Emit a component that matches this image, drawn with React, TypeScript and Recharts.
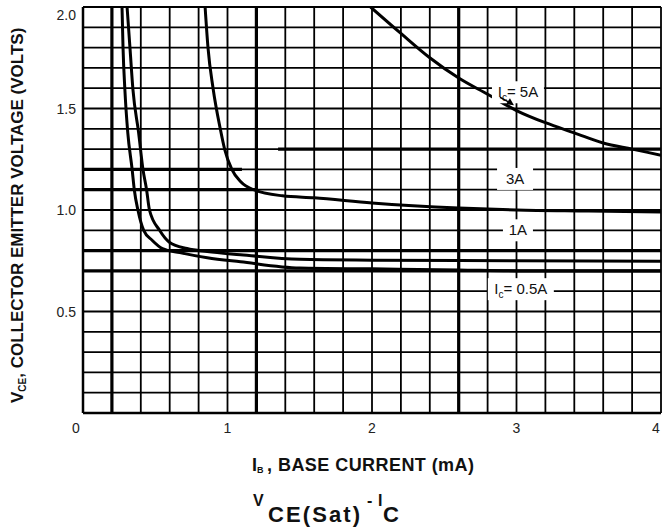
import { LineChart, Line, XAxis, YAxis, CartesianGrid, ReferenceLine, ReferenceDot } from 'recharts'

const FONT = 'Liberation Sans, Arial, Helvetica, sans-serif'

// grid every 0.2 mA / 0.1 V, labels on the whole numbers
const xGridTicks = [0, 0.2, 0.4, 0.6, 0.8, 1, 1.2, 1.4, 1.6, 1.8, 2, 2.2, 2.4, 2.6, 2.8, 3, 3.2, 3.4, 3.6, 3.8, 4]
const xLabelTicks = [0, 1, 2, 3, 4]
const yGridTicks = [0, 0.1, 0.2, 0.3, 0.4, 0.5, 0.6, 0.7, 0.8, 0.9, 1, 1.1, 1.2, 1.3, 1.4, 1.5, 1.6, 1.7, 1.8, 1.9, 2]
const yLabelTicks = [0.5, 1, 1.5, 2]

// Ic = 0.5A
const ib05 = [0.27, 0.277, 0.29, 0.31, 0.34, 0.355, 0.38, 0.42, 0.48, 0.55, 0.67, 0.86, 1.09, 1.5, 2.0, 2.6, 3.0, 3.5, 4.0]
const vce05 = [2.0, 1.8, 1.59, 1.38, 1.2, 1.1, 1.0, 0.9, 0.85, 0.81, 0.79, 0.765, 0.745, 0.714, 0.71, 0.705, 0.7, 0.7, 0.7]
// Ic = 1A
const ib1 = [0.305, 0.325, 0.346, 0.385, 0.415, 0.44, 0.46, 0.53, 0.6, 0.72, 0.86, 1.09, 1.5, 2.0, 3.0, 4.0]
const vce1 = [2.0, 1.8, 1.59, 1.38, 1.2, 1.1, 1.0, 0.9, 0.84, 0.81, 0.795, 0.78, 0.757, 0.753, 0.75, 0.748]
// Ic = 3A
const ib3 = [0.845, 0.865, 0.9, 0.95, 0.98, 1.03, 1.09, 1.18, 1.38, 1.6, 2.0, 2.6, 3.0, 3.5, 4.0]
const vce3 = [2.0, 1.8, 1.6, 1.4, 1.3, 1.2, 1.14, 1.1, 1.07, 1.06, 1.035, 1.01, 1.0, 0.995, 0.99]
// Ic = 5A
const ib5 = [1.99, 2.2, 2.4, 2.6, 2.8, 3.0, 3.2, 3.4, 3.6, 3.8, 4.0]
const vce5 = [2.0, 1.87, 1.75, 1.65, 1.57, 1.49, 1.43, 1.38, 1.33, 1.3, 1.27]

const toPoints = (xs: number[], ys: number[]) => xs.map((x, i) => ({ ib: x, vce: ys[i] }))

const curves = [
  { key: '0.5A', data: toPoints(ib05, vce05) },
  { key: '1A', data: toPoints(ib1, vce1) },
  { key: '3A', data: toPoints(ib3, vce3) },
  { key: '5A', data: toPoints(ib5, vce5) },
]

const curveLabels = [
  { x: 3.01, y: 1.58, main: 'I', sub: 'c', rest: '= 5A', w: 52, arrow: true },
  { x: 2.99, y: 1.153, main: '3A', sub: '', rest: '', w: 36, arrow: false },
  { x: 3.01, y: 0.9, main: '1A', sub: '', rest: '', w: 30, arrow: false },
  { x: 3.03, y: 0.61, main: 'I', sub: 'c', rest: '= 0.5A', w: 66, arrow: false },
]

// heavier rulings seen on the original sheet
const thickX = [0.2, 1.2, 2.6]
const thickY = [0.7, 0.8]
const thickSegments = [
  { y: 1.2, from: 0, to: 1.1 },
  { y: 1.1, from: 0, to: 1.2 },
  { y: 1.3, from: 1.35, to: 4 },
]

function XTick({ x, y, payload }: any) {
  if (!xLabelTicks.includes(payload.value)) return <g />
  // first and last labels are nudged inside, as on the sheet
  const dx = payload.value === 0 ? -7 : payload.value === 4 ? -5 : 0
  return (
    <text x={x + dx} y={y + 20} textAnchor='middle' fontSize={14} fontFamily={FONT} fill='#222'>
      {payload.value}
    </text>
  )
}

function YTick({ x, y, payload }: any) {
  if (!yLabelTicks.includes(payload.value)) return <g />
  const dy = payload.value === 2 ? 8 : 0
  return (
    <text x={x - 7} y={y + 5 + dy} textAnchor='end' fontSize={14} fontFamily={FONT} fill='#222'>
      {payload.value.toFixed(1)}
    </text>
  )
}

function labelShape(l: (typeof curveLabels)[number]) {
  return (props: any) => {
    const { cx, cy } = props
    return (
      <g>
        <rect x={cx - l.w / 2} y={cy - 11} width={l.w} height={22} fill='#fff' />
        <text x={cx} y={cy + 5} textAnchor='middle' fontSize={15} fontFamily={FONT} fill='#111'>
          {l.main}
          {l.sub && (
            <tspan fontSize={10} dy={4}>
              {l.sub}
            </tspan>
          )}
          {l.sub && <tspan dy={-4}>{l.rest}</tspan>}
        </text>
        {l.arrow && (
          <g>
            <line x1={cx - 18} y1={cy + 5} x2={cx - 7} y2={cy + 11} stroke='#000' strokeWidth={1.5} />
            <polygon points={`${cx - 4},${cy + 13} ${cx - 12},${cy + 12} ${cx - 8},${cy + 6}`} fill='#000' />
          </g>
        )}
      </g>
    )
  }
}

export default function App() {
  return (
    <div style={{ position: 'absolute', left: 0, top: 0, width: 662, height: 532, background: '#fff' }}>
      <LineChart width={662} height={532} margin={{ top: 7, right: 1, bottom: 0, left: 0 }}>
        <CartesianGrid stroke='#000' strokeWidth={1.8} strokeOpacity={1} />
        <XAxis
          type='number'
          dataKey='ib'
          domain={[0, 4]}
          ticks={xGridTicks}
          interval={0}
          allowDataOverflow
          height={119}
          tickSize={0}
          tickMargin={0}
          tickLine={false}
          tick={<XTick />}
          axisLine={{ stroke: '#000', strokeWidth: 2.5 }}
        />
        <YAxis
          type='number'
          dataKey='vce'
          domain={[0, 2]}
          ticks={yGridTicks}
          interval={0}
          allowDataOverflow
          width={83}
          tickSize={0}
          tickMargin={0}
          tickLine={false}
          tick={<YTick />}
          axisLine={{ stroke: '#000', strokeWidth: 2.5 }}
        />
        {thickX.map((v) => (
          <ReferenceLine key={'tx' + v} x={v} stroke='#000' strokeWidth={3.2} />
        ))}
        {thickY.map((v) => (
          <ReferenceLine key={'ty' + v} y={v} stroke='#000' strokeWidth={3.2} />
        ))}
        {thickSegments.map((s) => (
          <ReferenceLine
            key={'ts' + s.y}
            segment={[
              { x: s.from, y: s.y },
              { x: s.to, y: s.y },
            ]}
            stroke='#000'
            strokeWidth={3.2}
          />
        ))}
        {curveLabels.map((l) => (
          <ReferenceDot key={'lb' + l.main + l.rest} x={l.x} y={l.y} r={0} shape={labelShape(l)} />
        ))}
        {curves.map((c) => (
          <Line
            key={c.key}
            data={c.data}
            dataKey='vce'
            type='monotone'
            stroke='#000'
            strokeWidth={3}
            dot={false}
            isAnimationActive={false}
          />
        ))}
      </LineChart>
      <svg
        width={662}
        height={532}
        style={{ position: 'absolute', left: 0, top: 0, pointerEvents: 'none' }}
        fontFamily={FONT}
        fontWeight='bold'
        fill='#111'
      >
        <text transform='rotate(-90)' x={-403} y={23} fontSize={17}>
          V
          <tspan fontSize={10} dy={3}>
            CE
          </tspan>
          <tspan dy={-3}>, COLLECTOR EMITTER VOLTAGE (VOLTS)</tspan>
        </text>
        <text x={252} y={471} fontSize={18}>
          I
          <tspan fontSize={9} dy={2}>
            B
          </tspan>
        </text>
        <text x={267} y={471} fontSize={18}>
          ,
        </text>
        <text x={278} y={471} fontSize={18} textLength={196}>
          BASE CURRENT (mA)
        </text>
        <text x={253} y={506} fontSize={16}>
          V
        </text>
        <text x={268} y={522} fontSize={22} textLength={92}>
          CE(Sat)
        </text>
        <text x={367} y={506} fontSize={16}>
          -
        </text>
        <text x={378} y={506} fontSize={16}>
          I
        </text>
        <text x={383} y={522} fontSize={22}>
          C
        </text>
      </svg>
    </div>
  )
}
